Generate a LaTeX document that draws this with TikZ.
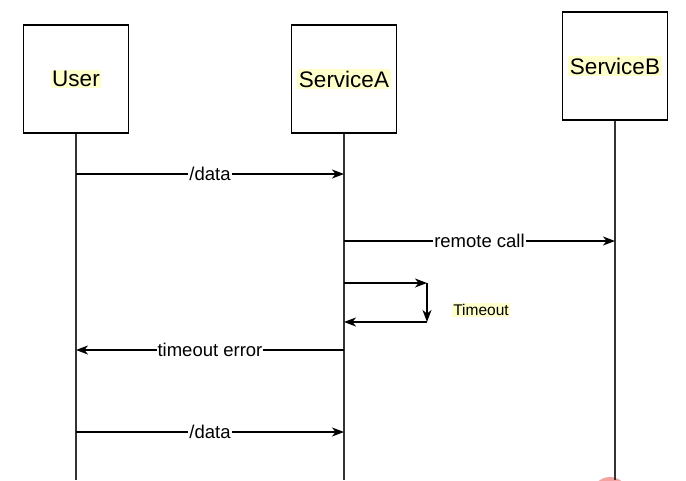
\documentclass[tikz,border=0pt]{standalone}
\usepackage{fontspec}
\setmainfont{Liberation Sans}
\usetikzlibrary{arrows.meta,positioning}

\definecolor{hilite}{HTML}{FFFFCC}
\definecolor{lifegray}{HTML}{333333}
\definecolor{cursorred}{HTML}{F4A3A3}
\newcommand{\hltext}[1]{{\setlength{\fboxsep}{1.5pt}\colorbox{hilite}{#1}}}

\begin{document}
\begin{tikzpicture}[x=1pt, y=-1pt,
    actor/.style={draw, rectangle, line width=1.2pt, minimum width=105pt, minimum height=108pt, font=\fontsize{22.5}{24}\selectfont},
    life/.style={line width=1.8pt, lifegray},
    msg/.style={line width=1.2pt, -{Stealth[length=12pt, width=9pt, inset=3.5pt]}},
    lbl/.style={fill=white, inner sep=1pt, font=\fontsize{18.5}{20}\selectfont}]
    \useasboundingbox (0,0) rectangle (686,480);
    \begin{scope}
        \clip (0,0) rectangle (686,480);
        \fill[cursorred] (610,495) circle (18pt);
    \end{scope}
    % participants
    \node[actor] (user) at (76,79) {\hltext{User}};
    \node[actor] (svcA) at (344,79) {\hltext{ServiceA}};
    \node[actor] (svcB) at (615,66) {\hltext{ServiceB}};
    % lifelines
    \coordinate (userEnd) at (76,480);
    \coordinate (svcAEnd) at (344,480);
    \coordinate (svcBEnd) at (615,480);
    \draw[life] (user.south) -- (userEnd);
    \draw[life] (svcA.south) -- (svcAEnd);
    \draw[life] (svcB.south) -- (svcBEnd);
    % message points
    \coordinate (u1) at (76,174);
    \coordinate (a1) at (344,174);
    \coordinate (a2) at (344,241);
    \coordinate (b2) at (615,241);
    \coordinate (a3) at (344,283);
    \coordinate (t1) at (427,283);
    \coordinate (t2) at (427,322);
    \coordinate (a4) at (344,322);
    \coordinate (a5) at (344,350);
    \coordinate (u5) at (76,350);
    \coordinate (u6) at (76,432);
    \coordinate (a6) at (344,432);
    % messages
    \draw[msg] (u1) -- node[lbl] {/data} (a1);
    \draw[msg] (a2) -- node[lbl] {remote call} (b2);
    \draw[msg] (a3) -- (t1);
    \draw[msg] (t1) -- (t2);
    \draw[msg] (t2) -- (a4);
    \node[font=\fontsize{15.5}{17}\selectfont] (tout) at (481,310) {\hltext{Timeout}};
    \draw[msg] (a5) -- node[lbl] {timeout error} (u5);
    \draw[msg] (u6) -- node[lbl] {/data} (a6);
\end{tikzpicture}
\end{document}
